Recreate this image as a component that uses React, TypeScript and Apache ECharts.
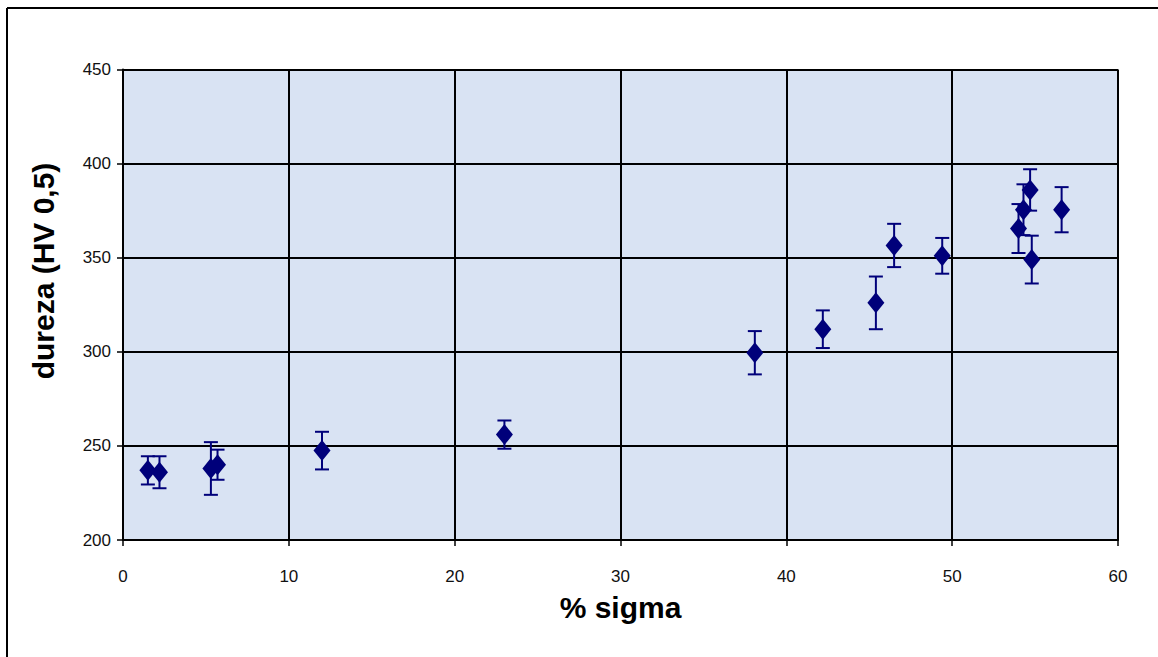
import React, { useEffect, useRef } from "react";
import * as echarts from "echarts";

const sigmaPct: number[] = [1.5, 2.2, 5.3, 5.7, 12.0, 23.0, 38.1, 42.2, 45.4, 46.5, 49.4, 54.0, 54.3, 54.7, 54.8, 56.6];
const hardness: number[] = [237, 236, 238, 240, 247.5, 256, 299.5, 312, 326, 356.5, 351, 365.5, 375.5, 386, 349, 375.5];
const errorBar: number[] = [7.5, 8.5, 14, 8, 10, 7.5, 11.5, 10, 14, 11.5, 9.5, 13, 13.5, 11, 12.7, 12];
const xTicks = { min: 0, max: 60, interval: 10 };
const yTicks = { min: 200, max: 450, interval: 50 };
const xTitle = "% sigma";
const yTitle = "dureza (HV 0,5)";

const NAVY = "#00007a";
const FONT = "Liberation Sans, Arial, sans-serif";

export default function App() {
  const ref = useRef<HTMLDivElement>(null);
  useEffect(() => {
    if (!ref.current) return;
    const chart = echarts.init(ref.current, undefined, { renderer: "svg" });
    const points = sigmaPct.map((x, i) => [x, hardness[i]]);
    const bars = sigmaPct.map((x, i) => [x, hardness[i], hardness[i] - errorBar[i], hardness[i] + errorBar[i]]);
    const labelStyle = { color: "#111", fontFamily: FONT, fontSize: 17 };
    chart.setOption({
      animation: false,
      backgroundColor: "#fff",
      grid: {
        left: 123,
        right: 40,
        top: 69.5,
        bottom: 117,
        show: true,
        backgroundColor: "#d9e3f3",
        borderColor: "#000",
        borderWidth: 0,
      },
      graphic: [
        { type: "line", shape: { x1: 7, y1: 8, x2: 7, y2: 657 }, style: { stroke: "#000", lineWidth: 2 } },
        { type: "line", shape: { x1: 7, y1: 8, x2: 1158, y2: 8 }, style: { stroke: "#000", lineWidth: 2 } },
        {
          type: "text",
          x: 43,
          y: 271,
          rotation: Math.PI / 2,
          style: {
            text: yTitle,
            fill: "#000",
            font: `bold 30px ${FONT}`,
            align: "center",
            verticalAlign: "middle",
          },
        },
      ],
      xAxis: {
        type: "value",
        min: xTicks.min,
        max: xTicks.max,
        interval: xTicks.interval,
        name: xTitle,
        nameLocation: "middle",
        nameGap: 52,
        nameTextStyle: { color: "#000", fontFamily: FONT, fontSize: 30, fontWeight: "bold" },
        axisLine: { show: true, onZero: false, lineStyle: { color: "#000", width: 2 } },
        axisTick: { show: true, inside: false, length: 6, lineStyle: { color: "#000", width: 1.5 } },
        axisLabel: { ...labelStyle, margin: 28 },
        splitLine: { show: true, lineStyle: { color: "#000", width: 2 } },
      },
      yAxis: {
        type: "value",
        min: yTicks.min,
        max: yTicks.max,
        interval: yTicks.interval,
        axisLine: { show: true, onZero: false, lineStyle: { color: "#000", width: 2 } },
        axisTick: { show: true, inside: false, length: 6, lineStyle: { color: "#000", width: 1.5 } },
        axisLabel: { ...labelStyle, margin: 12 },
        splitLine: { show: true, lineStyle: { color: "#000", width: 2 } },
      },
      series: [
        {
          type: "custom",
          data: bars,
          encode: { x: 0, y: 1 },
          z: 3,
          renderItem: (params: any, api: any) => {
            const x = api.value(0);
            const lo = api.coord([x, api.value(2)]);
            const hi = api.coord([x, api.value(3)]);
            const half = 7;
            const style = { stroke: NAVY, lineWidth: 2 };
            return {
              type: "group",
              children: [
                { type: "line", shape: { x1: lo[0], y1: lo[1], x2: hi[0], y2: hi[1] }, style },
                { type: "line", shape: { x1: lo[0] - half, y1: lo[1], x2: lo[0] + half, y2: lo[1] }, style },
                { type: "line", shape: { x1: hi[0] - half, y1: hi[1], x2: hi[0] + half, y2: hi[1] }, style },
              ],
            };
          },
        },
        {
          type: "scatter",
          data: points,
          symbol: "diamond",
          symbolSize: [17, 21],
          itemStyle: { color: NAVY, opacity: 1 },
          z: 4,
        },
      ],
    });
    return () => chart.dispose();
  }, []);
  return <div ref={ref} style={{ position: "absolute", left: 0, top: 0, width: 1158, height: 657 }} />;
}
